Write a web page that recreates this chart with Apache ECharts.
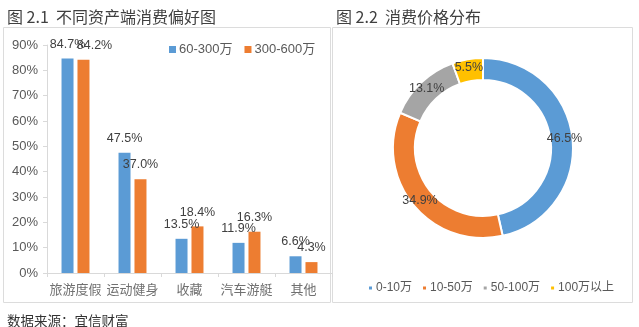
<!DOCTYPE html>
<html><head><meta charset="utf-8">
<script src="https://cdn.jsdelivr.net/npm/echarts@6/dist/echarts.min.js"></script>
<style>html,body{margin:0;padding:0;background:#fff;}#c{width:639px;height:327px;}</style>
</head><body><div id="c"></div>
<script>
const categories = ['旅游度假', '运动健身', '收藏', '汽车游艇', '其他'];
const seriesNames = ['60-300万', '300-600万'];
const valuesA = [84.7, 47.5, 13.5, 11.9, 6.6];
const valuesB = [84.2, 37.0, 18.4, 16.3, 4.3];
const yTicks = [0, 10, 20, 30, 40, 50, 60, 70, 80, 90];
const pieNames = ['0-10万', '10-50万', '50-100万', '100万以上'];
const pieValues = [46.5, 34.9, 13.1, 5.5];

const FONT = '"Liberation Sans", "Noto Sans CJK SC", sans-serif';
const CJK = '"Noto Sans CJK SC", sans-serif';
const colors = ['#5B9BD5', '#ED7D31', '#A5A5A5', '#FFC000'];
const chart = echarts.init(document.getElementById('c'), null, {renderer: 'canvas'});
const pct = p => Number(p.value).toFixed(1) + '%';

const dataB = valuesB.map((v, i) => i === 0 ? {value: v, label: {offset: [11, 0]}} : v);

chart.setOption({
  animation: false,
  color: colors,
  title: [
    {text: '图 2.1  不同资产端消费偏好图', left: 2, top: 4, textStyle: {fontFamily: CJK, fontSize: 16, fontWeight: 'normal', color: '#404040'}},
    {text: '图 2.2  消费价格分布', left: 331, top: 4, textStyle: {fontFamily: CJK, fontSize: 16, fontWeight: 'normal', color: '#404040'}},
    {text: '数据来源：宜信财富', left: 2, top: 309, textStyle: {fontFamily: CJK, fontSize: 13.5, fontWeight: 'normal', color: '#333'}}
  ],
  graphic: [
    {type: 'rect', shape: {x: 3.5, y: 27.5, width: 327, height: 275}, style: {fill: 'none', stroke: '#dcdcdc', lineWidth: 1}, z: -1},
    {type: 'rect', shape: {x: 332.5, y: 27.5, width: 300, height: 275}, style: {fill: 'none', stroke: '#dcdcdc', lineWidth: 1}, z: -1}
  ],
  legend: [
    {data: seriesNames, left: 164, top: 38, itemWidth: 7, itemHeight: 7, itemGap: 12, icon: 'rect',
     textStyle: {fontFamily: FONT, fontSize: 13, color: '#595959', padding: [0, 0, 0, -2]}},
    {data: pieNames, left: 362, top: 277, itemWidth: 5, itemHeight: 5, itemGap: 9, icon: 'rect',
     textStyle: {fontFamily: FONT, fontSize: 12, color: '#595959', padding: [0, 0, 0, -2]}}
  ],
  grid: {left: 47, top: 45, width: 285, height: 228, containLabel: false},
  xAxis: {
    type: 'category', data: categories,
    axisLine: {lineStyle: {color: '#d9d9d9'}},
    axisTick: {show: true, length: 4, lineStyle: {color: '#d9d9d9'}},
    axisLabel: {interval: 0, fontFamily: CJK, fontSize: 13, color: '#707070', margin: 10}
  },
  yAxis: {
    type: 'value', min: yTicks[0], max: yTicks[yTicks.length - 1], interval: yTicks[1] - yTicks[0],
    axisLine: {show: true, lineStyle: {color: '#d9d9d9'}},
    axisTick: {show: true, length: 4, lineStyle: {color: '#d9d9d9'}},
    splitLine: {show: false},
    axisLabel: {formatter: '{value}%', fontFamily: FONT, fontSize: 13, color: '#595959', margin: 9}
  },
  series: [
    {name: seriesNames[0], type: 'bar', data: valuesA, barWidth: 12, barGap: '33%',
     label: {show: true, position: 'top', distance: 8, formatter: pct, fontFamily: FONT, fontSize: 12.5, color: '#404040'}},
    {name: seriesNames[1], type: 'bar', data: dataB, barWidth: 12, barGap: '33%',
     label: {show: true, position: 'top', distance: 8, formatter: pct, fontFamily: FONT, fontSize: 12.5, color: '#404040'}},
    {type: 'pie', center: [483, 148], radius: [68, 90], startAngle: 90, clockwise: true,
     data: pieNames.map((n, i) => ({name: n, value: pieValues[i]})),
     itemStyle: {borderColor: '#fff', borderWidth: 2},
     label: {show: true, position: 'inside', formatter: pct, fontFamily: FONT, fontSize: 12.5, color: '#404040'},
     labelLine: {show: false}, emphasis: {disabled: true}}
  ]
});
</script></body></html>
